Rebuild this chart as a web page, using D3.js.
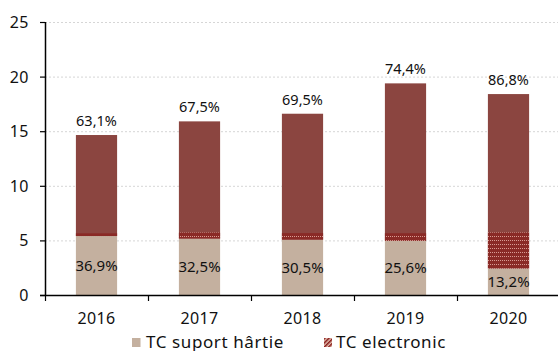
<!DOCTYPE html>
<html><head><meta charset="utf-8">
<script src="https://cdn.jsdelivr.net/npm/d3@7/dist/d3.min.js"></script>
<style>body{margin:0;background:#fff}svg{display:block;font-family:"Noto Sans",sans-serif}</style>
</head><body><svg id="c" width="558" height="351"></svg>
<script>
const years = ["2016","2017","2018","2019","2020"];
const paper = [5.40, 5.17, 5.07, 4.96, 2.43];
const electronic = [9.25, 10.73, 11.53, 14.42, 15.97];
const hatchBand = [0.25, 0.55, 0.6, 0.7, 3.3];
const topLabels = ["63,1%","67,5%","69,5%","74,4%","86,8%"];
const paperLabels = ["36,9%","32,5%","30,5%","25,6%","13,2%"];
const yTicks = [0,5,10,15,20,25];
const seriesNames = ["TC suport hârtie","TC electronic"];

const svg = d3.select("#c");
const defs = svg.append("defs");
const pl = defs.append("pattern").attr("id","legHatch").attr("patternUnits","userSpaceOnUse")
  .attr("width",3).attr("height",3).attr("patternTransform","rotate(45)");
pl.append("rect").attr("width",3).attr("height",3).attr("fill","#e8c9b8");
pl.append("rect").attr("width",1.6).attr("height",3).attr("fill","#8a1c1c");
const pb = defs.append("pattern").attr("id","barHatch").attr("patternUnits","userSpaceOnUse")
  .attr("width",2).attr("height",4);
pb.append("rect").attr("width",2).attr("height",4).attr("fill","#8a2a26");
pb.append("rect").attr("width",1).attr("height",1).attr("fill","#d89c94");

const x = d3.scaleBand().domain(years).range([45,560]).paddingInner(0.6).paddingOuter(0.3);
const y = d3.scaleLinear().domain([0,25]).range([295,22]);
const tan = "#c4b09f", red = "#8b4540";

// gridlines
svg.append("g").selectAll("line").data(yTicks.filter(d=>d>0)).join("line")
  .attr("x1",45).attr("x2",558).attr("y1",d=>y(d)+0.5).attr("y2",d=>y(d)+0.5)
  .attr("stroke","#d6d6d6").attr("stroke-dasharray","2,2");

const g = svg.append("g");
years.forEach((yr,i)=>{
  const x0 = x(yr), w = x.bandwidth();
  const p = paper[i], e = electronic[i];
  g.append("rect").attr("x",x0).attr("width",w).attr("y",y(p)).attr("height",y(0)-y(p)).attr("fill",tan);
  g.append("rect").attr("x",x0).attr("width",w).attr("y",y(p+e)).attr("height",y(p)-y(p+e)).attr("fill",red);
  g.append("rect").attr("x",x0).attr("width",w).attr("y",y(p+hatchBand[i])).attr("height",y(p)-y(p+hatchBand[i])).attr("fill","url(#barHatch)");
  g.append("text").attr("x",x0+w/2).attr("y",y(p+e)-9).attr("text-anchor","middle")
    .attr("font-size",14.5).attr("fill","#111").text(topLabels[i]);
  g.append("text").attr("x",x0+w/2).attr("y",(y(p)+y(0))/2+5.5).attr("text-anchor","middle")
    .attr("font-size",15).attr("fill","#111").text(paperLabels[i]);
});

// y axis
const ya = svg.append("g");
ya.append("line").attr("x1",45.5).attr("x2",45.5).attr("y1",22).attr("y2",296).attr("stroke","#000").attr("stroke-width",1.5);
ya.selectAll("line.t").data(yTicks).join("line").attr("class","t")
  .attr("x1",40).attr("x2",45).attr("y1",d=>y(d)+0.5).attr("y2",d=>y(d)+0.5).attr("stroke","#000").attr("stroke-width",1.2);
ya.selectAll("text").data(yTicks).join("text").attr("x",29).attr("y",d=>y(d)+6)
  .attr("text-anchor","end").attr("font-size",16).attr("letter-spacing",0.5).attr("fill","#111").text(d=>d);

// x axis
const xa = svg.append("g");
xa.append("line").attr("x1",40).attr("x2",558).attr("y1",295.5).attr("y2",295.5).attr("stroke","#000").attr("stroke-width",1.5);
const bounds = years.map(d=>x(d)-x.step()*x.paddingInner()/2);
bounds[0] = 45;
xa.selectAll("line.t").data(bounds).join("line").attr("class","t")
  .attr("x1",d=>d+0.5).attr("x2",d=>d+0.5).attr("y1",295).attr("y2",301).attr("stroke","#000").attr("stroke-width",1.2);
xa.selectAll("text").data(years).join("text").attr("x",d=>x(d)+x.bandwidth()/2).attr("y",323.5)
  .attr("text-anchor","middle").attr("font-size",16).attr("letter-spacing",0.3).attr("fill","#111").text(d=>d);

// legend
const lg = svg.append("g");
lg.append("rect").attr("x",132).attr("y",338).attr("width",8.5).attr("height",9).attr("fill",tan);
lg.append("text").attr("x",146).attr("y",347.5).attr("font-size",17).attr("letter-spacing",0.6).attr("fill","#111").text(seriesNames[0]);
lg.append("rect").attr("x",324).attr("y",338).attr("width",8).attr("height",9).attr("fill","url(#legHatch)");
lg.append("text").attr("x",336).attr("y",347.5).attr("font-size",17).attr("letter-spacing",0.6).attr("fill","#111").text(seriesNames[1]);
</script></body></html>
